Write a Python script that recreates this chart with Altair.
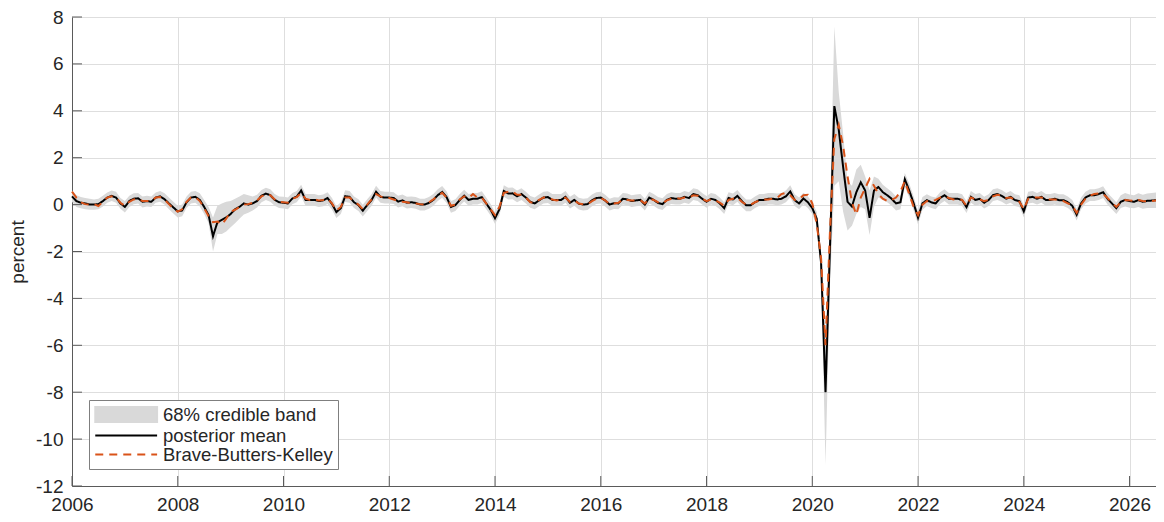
import altair as alt
import pandas as pd

start_year = 2006

mean = [
    0.35, 0.15, 0.08, 0.05, 0.00, 0.00, 0.02, 0.15, 0.30, 0.37, 0.30, 0.05,
    -0.10, 0.15, 0.25, 0.27, 0.12, 0.15, 0.12, 0.30, 0.35, 0.23, 0.05, -0.12,
    -0.29, -0.25, 0.10, 0.30, 0.33, 0.20, -0.10, -0.45, -1.35, -0.75, -0.65, -0.55,
    -0.40, -0.20, -0.10, 0.05, 0.00, 0.05, 0.15, 0.38, 0.47, 0.40, 0.20, 0.10,
    0.08, 0.05, 0.26, 0.34, 0.60, 0.20, 0.20, 0.20, 0.15, 0.18, 0.28, 0.03,
    -0.32, -0.15, 0.36, 0.33, 0.10, -0.02, -0.26, -0.02, 0.20, 0.55, 0.33, 0.30,
    0.30, 0.28, 0.13, 0.18, 0.08, 0.10, 0.07, 0.00, 0.00, 0.07, 0.20, 0.40,
    0.54, 0.32, -0.10, -0.02, 0.20, 0.38, 0.20, 0.25, 0.25, 0.32, 0.05, -0.22,
    -0.58, -0.20, 0.58, 0.47, 0.48, 0.35, 0.45, 0.30, 0.12, 0.05, 0.18, 0.30,
    0.32, 0.20, 0.20, 0.20, 0.33, 0.08, 0.20, 0.04, 0.00, 0.02, 0.18, 0.28,
    0.30, 0.17, 0.00, 0.06, 0.05, 0.25, 0.22, 0.15, 0.18, 0.20, 0.00, 0.30,
    0.20, 0.07, 0.02, 0.20, 0.28, 0.25, 0.25, 0.33, 0.28, 0.45, 0.40, 0.25,
    0.12, 0.25, 0.20, 0.05, -0.15, 0.28, 0.22, 0.37, 0.15, -0.03, -0.03, 0.10,
    0.20, 0.20, 0.25, 0.25, 0.22, 0.25, 0.35, 0.56, 0.19, 0.05, 0.26, 0.10,
    -0.15, -0.60, -2.50, -8.00, -1.90, 4.20, 3.20, 1.60, 0.12, -0.08, 0.53, 0.95,
    0.60, -0.56, 0.60, 0.75, 0.53, 0.40, 0.25, 0.05, 0.10, 1.08, 0.60, 0.05,
    -0.56, 0.05, 0.19, 0.10, 0.05, 0.28, 0.40, 0.25, 0.25, 0.25, 0.19, -0.11,
    0.33, 0.20, 0.25, 0.08, 0.19, 0.40, 0.45, 0.37, 0.25, 0.33, 0.19, 0.15,
    -0.29, 0.30, 0.33, 0.25, 0.33, 0.20, 0.20, 0.25, 0.19, 0.19, 0.10, -0.05,
    -0.43, 0.05, 0.30, 0.40, 0.40, 0.45, 0.53, 0.25, 0.05, -0.15, 0.12, 0.20,
    0.15, 0.12, 0.19, 0.12, 0.16, 0.17, 0.19,
]

bbk = [
    0.55, 0.30, 0.10, 0.02, 0.00, 0.02, -0.06, 0.12, 0.30, 0.35, 0.30, 0.08,
    -0.05, 0.12, 0.22, 0.25, 0.15, 0.15, 0.15, 0.30, 0.32, 0.22, 0.02, -0.18,
    -0.30, -0.20, 0.12, 0.30, 0.32, 0.15, -0.15, -0.50, -0.75, -0.72, -0.85, -0.60,
    -0.30, -0.22, -0.10, 0.00, 0.02, 0.08, 0.18, 0.35, 0.45, 0.40, 0.22, 0.12,
    0.10, 0.08, 0.25, 0.32, 0.50, 0.25, 0.20, 0.22, 0.18, 0.20, 0.25, 0.05,
    -0.25, -0.10, 0.30, 0.30, 0.12, 0.00, -0.20, 0.00, 0.22, 0.45, 0.35, 0.28,
    0.28, 0.22, 0.15, 0.12, 0.10, 0.05, 0.05, 0.02, 0.00, 0.10, 0.22, 0.38,
    0.50, 0.30, -0.05, 0.00, 0.22, 0.35, 0.28, 0.45, 0.30, 0.30, 0.05, -0.20,
    -0.45, -0.10, 0.50, 0.55, 0.55, 0.42, 0.42, 0.30, 0.10, 0.08, 0.20, 0.30,
    0.30, 0.22, 0.18, 0.22, 0.30, 0.12, 0.18, 0.05, 0.02, 0.02, 0.15, 0.25,
    0.28, 0.18, 0.03, 0.05, 0.08, 0.22, 0.20, 0.18, 0.18, 0.18, 0.05, 0.25,
    0.20, 0.10, 0.05, 0.18, 0.25, 0.28, 0.25, 0.30, 0.30, 0.40, 0.38, 0.25,
    0.15, 0.22, 0.18, 0.08, -0.05, 0.20, 0.25, 0.30, 0.12, 0.00, 0.00, 0.10,
    0.18, 0.22, 0.22, 0.25, 0.28, 0.45, 0.50, 0.40, 0.20, 0.22, 0.40, 0.42,
    0.05, -0.80, -2.30, -6.00, -1.20, 2.80, 3.40, 2.50, 1.20, 0.10, -0.43, 0.30,
    0.70, 1.10, 0.80, 0.45, 0.25, 0.15, 0.20, 0.30, 0.55, 1.00, 0.45, -0.10,
    -0.45, 0.00, 0.15, 0.12, 0.20, 0.30, 0.35, 0.28, 0.22, 0.25, 0.20, -0.05,
    0.30, 0.22, 0.22, 0.15, 0.20, 0.35, 0.42, 0.38, 0.28, 0.30, 0.20, 0.12,
    -0.20, 0.25, 0.30, 0.30, 0.30, 0.25, 0.22, 0.22, 0.20, 0.15, 0.05, -0.05,
    -0.35, 0.00, 0.25, 0.38, 0.45, 0.48, 0.45, 0.28, 0.08, -0.10, 0.10, 0.20,
    0.18, 0.15, 0.20, 0.15, 0.14, 0.15, 0.18,
]

band_lo = [
    0.12, -0.10, -0.16, -0.20, -0.22, -0.22, -0.20, -0.08, 0.08, 0.15, 0.08, -0.18,
    -0.34, -0.10, 0.02, 0.05, -0.12, -0.08, -0.10, 0.08, 0.12, 0.00, -0.20, -0.38,
    -0.55, -0.50, -0.15, 0.05, 0.08, -0.08, -0.40, -0.80, -2.00, -1.25, -1.25, -1.15,
    -0.97, -0.80, -0.60, -0.42, -0.35, -0.25, -0.12, 0.10, 0.20, 0.12, -0.05, -0.15,
    -0.17, -0.20, 0.02, 0.10, 0.35, -0.05, -0.05, -0.05, -0.10, -0.07, 0.03, -0.22,
    -0.57, -0.40, 0.11, 0.08, -0.15, -0.27, -0.51, -0.27, -0.05, 0.30, 0.08, 0.05,
    0.05, 0.03, -0.12, -0.07, -0.17, -0.15, -0.18, -0.25, -0.25, -0.18, -0.05, 0.15,
    0.29, 0.07, -0.35, -0.27, -0.05, 0.13, -0.05, 0.00, 0.00, 0.07, -0.20, -0.47,
    -0.83, -0.45, 0.33, 0.22, 0.23, 0.10, 0.20, 0.05, -0.13, -0.20, -0.07, 0.05,
    0.07, -0.05, -0.05, -0.05, 0.08, -0.17, -0.05, -0.21, -0.25, -0.23, -0.07, 0.03,
    0.05, -0.08, -0.25, -0.19, -0.20, 0.00, -0.03, -0.10, -0.07, -0.05, -0.25, 0.05,
    -0.05, -0.18, -0.23, -0.05, 0.03, 0.00, 0.00, 0.08, 0.03, 0.20, 0.15, 0.00,
    -0.13, 0.00, -0.05, -0.20, -0.40, 0.03, -0.03, 0.12, -0.10, -0.28, -0.28, -0.15,
    -0.05, -0.05, 0.00, 0.00, -0.03, 0.00, 0.10, 0.30, -0.06, -0.20, 0.01, -0.15,
    -0.40, -0.90, -2.90, -11.10, -3.50, 0.80, 1.00, -0.30, -1.10, -0.90, -0.40, -0.10,
    -0.20, -1.30, -0.10, 0.30, 0.20, 0.10, -0.05, -0.25, -0.20, 0.75, 0.30, -0.25,
    -0.85, -0.22, -0.06, -0.15, -0.20, 0.03, 0.15, 0.00, 0.00, 0.00, -0.06, -0.36,
    0.08, -0.05, 0.00, -0.17, -0.06, 0.15, 0.20, 0.12, 0.00, 0.08, -0.06, -0.10,
    -0.54, 0.05, 0.08, 0.00, 0.08, -0.05, -0.05, 0.00, -0.06, -0.06, -0.15, -0.30,
    -0.68, -0.20, 0.05, 0.15, 0.15, 0.20, 0.28, 0.00, -0.20, -0.40, -0.15, -0.08,
    -0.13, -0.16, -0.10, -0.18, -0.15, -0.15, -0.14,
]

band_hi = [
    0.60, 0.40, 0.32, 0.28, 0.25, 0.22, 0.25, 0.38, 0.52, 0.60, 0.55, 0.28,
    0.15, 0.38, 0.48, 0.50, 0.35, 0.38, 0.35, 0.52, 0.58, 0.48, 0.30, 0.12,
    -0.05, 0.00, 0.35, 0.55, 0.58, 0.48, 0.20, -0.10, -0.55, -0.05, 0.05, 0.12,
    0.15, 0.25, 0.35, 0.45, 0.40, 0.35, 0.42, 0.62, 0.72, 0.65, 0.45, 0.35,
    0.33, 0.30, 0.50, 0.58, 0.85, 0.45, 0.45, 0.45, 0.40, 0.43, 0.53, 0.28,
    -0.07, 0.10, 0.61, 0.58, 0.35, 0.23, -0.01, 0.23, 0.45, 0.80, 0.58, 0.55,
    0.55, 0.53, 0.38, 0.43, 0.33, 0.35, 0.32, 0.25, 0.25, 0.32, 0.45, 0.65,
    0.79, 0.57, 0.15, 0.23, 0.45, 0.63, 0.45, 0.50, 0.50, 0.57, 0.30, 0.03,
    -0.33, 0.05, 0.83, 0.72, 0.73, 0.60, 0.70, 0.55, 0.37, 0.30, 0.43, 0.55,
    0.57, 0.45, 0.45, 0.45, 0.58, 0.33, 0.45, 0.29, 0.25, 0.27, 0.43, 0.53,
    0.55, 0.42, 0.25, 0.31, 0.30, 0.50, 0.47, 0.40, 0.43, 0.45, 0.25, 0.55,
    0.45, 0.32, 0.27, 0.45, 0.53, 0.50, 0.50, 0.58, 0.53, 0.70, 0.65, 0.50,
    0.37, 0.50, 0.45, 0.30, 0.10, 0.53, 0.47, 0.62, 0.40, 0.22, 0.22, 0.35,
    0.45, 0.45, 0.50, 0.50, 0.47, 0.50, 0.60, 0.82, 0.44, 0.30, 0.51, 0.35,
    0.10, -0.30, -2.10, -5.50, -0.50, 7.60, 4.80, 3.00, 1.00, 0.80, 1.50, 1.70,
    1.20, 0.60, 1.20, 1.10, 0.85, 0.70, 0.55, 0.35, 0.40, 1.35, 0.90, 0.35,
    -0.28, 0.32, 0.44, 0.35, 0.30, 0.53, 0.65, 0.50, 0.50, 0.50, 0.44, 0.14,
    0.58, 0.45, 0.50, 0.33, 0.44, 0.65, 0.70, 0.62, 0.50, 0.58, 0.44, 0.40,
    -0.04, 0.55, 0.58, 0.50, 0.58, 0.45, 0.45, 0.50, 0.44, 0.44, 0.35, 0.20,
    -0.18, 0.30, 0.55, 0.65, 0.65, 0.70, 0.78, 0.50, 0.30, 0.10, 0.40, 0.50,
    0.43, 0.40, 0.48, 0.42, 0.47, 0.50, 0.52,
]

x_ticks = [2006, 2008, 2010, 2012, 2014, 2016, 2018, 2020, 2022, 2024, 2026]
y_ticks = [-12, -10, -8, -6, -4, -2, 0, 2, 4, 6, 8]
series_names = ["68% credible band", "posterior mean", "Brave-Butters-Kelley"]
series_colors = ["#d9d9d9", "#000000", "#d95319"]

n = len(mean)
df = pd.DataFrame({
    "t": [start_year + i / 12 for i in range(n)],
    "mean": mean,
    "bbk": bbk,
    "lo": band_lo,
    "hi": band_hi,
})

W, H = 1084, 469
FONT = "Liberation Sans"
TXT = "#262626"
AX = "#5a5a5a"
GRID = "#dedede"

xs = alt.Scale(domain=[2006, 2026.5], nice=False, zero=False)
ys = alt.Scale(domain=[-12, 8], nice=False, zero=False)

x_axis = alt.Axis(values=x_ticks, format="d", grid=True, ticks=False, labelPadding=9,
                  domainColor=AX, domainWidth=1, gridColor=GRID, gridWidth=1,
                  labelFontSize=19, labelFont=FONT, labelColor=TXT, title=None,
                  labelFlush=False, labelOverlap=False)
y_axis = alt.Axis(values=y_ticks, labelExpr="'' + datum.value", grid=True, ticks=False,
                  labelPadding=9, domainColor=AX, domainWidth=1, gridColor=GRID, gridWidth=1,
                  labelFontSize=19, labelFont=FONT, labelColor=TXT, labelFlush=False,
                  labelOverlap=False, title="percent", titleFontSize=19, titleFont=FONT,
                  titleFontWeight="normal", titleColor=TXT, titlePadding=8)

SYM = 272
RECT_PATH = "M-1,-0.9H6.5V0.9H-1Z"
LINE_PATH = "M-1,0H6.5"
legend = alt.Legend(
    title=None, orient="bottom-left", offset=17, symbolSize=SYM, labelOffset=50,
    labelFontSize=18.5, labelFont=FONT, labelColor=TXT, labelLimit=400,
    strokeColor="#7f7f7f", fillColor="white", padding=5, rowPadding=0,
    symbolStrokeWidth=2, symbolOpacity=1,
)
color_scale = alt.Scale(domain=series_names, range=series_colors)
shape_scale = alt.Scale(domain=series_names, range=[RECT_PATH, LINE_PATH, LINE_PATH])
dash_scale = alt.Scale(domain=series_names, range=[[1, 0], [1, 0], [8, 6]])

color_enc = alt.Color("series:N", scale=color_scale, legend=legend)
dash_enc = alt.StrokeDash("series:N", scale=dash_scale, legend=legend)

base = alt.Chart(df)
band = base.transform_calculate(series="'68% credible band'").mark_area(opacity=1).encode(
    x=alt.X("t:Q", scale=xs, axis=x_axis),
    y=alt.Y("lo:Q", scale=ys, axis=y_axis),
    y2="hi:Q",
    color=color_enc,
)
line_mean = base.transform_calculate(series="'posterior mean'").mark_line(strokeWidth=2).encode(
    x=alt.X("t:Q", scale=xs, axis=x_axis),
    y=alt.Y("mean:Q", scale=ys, axis=y_axis),
    color=color_enc,
    strokeDash=dash_enc,
)
line_bbk = base.transform_calculate(series="'Brave-Butters-Kelley'").mark_line(
    strokeWidth=2).encode(
    x=alt.X("t:Q", scale=xs, axis=x_axis),
    y=alt.Y("bbk:Q", scale=ys, axis=y_axis),
    color=color_enc,
    strokeDash=dash_enc,
)
# carries the legend symbol shapes only; it draws no points
legend_keys = base.transform_filter("false").transform_calculate(
    series="'posterior mean'").mark_point().encode(
    x=alt.X("t:Q", scale=xs, axis=x_axis),
    y=alt.Y("mean:Q", scale=ys, axis=y_axis),
    color=color_enc,
    shape=alt.Shape("series:N", scale=shape_scale, legend=legend),
)

yt = alt.Chart(pd.DataFrame({"v": y_ticks})).mark_rule(color=AX, strokeWidth=1).encode(
    y=alt.Y("v:Q", scale=ys, axis=y_axis),
    x=alt.value(0), x2=alt.value(10),
)
xt = alt.Chart(pd.DataFrame({"v": x_ticks})).mark_rule(color=AX, strokeWidth=1).encode(
    x=alt.X("v:Q", scale=xs, axis=x_axis),
    y=alt.value(H), y2=alt.value(H - 10),
)

chart = alt.layer(band, line_mean, line_bbk, legend_keys, yt, xt).properties(
    width=W, height=H,
    autosize=alt.AutoSizeParams(type="none"),
    padding={"left": 64, "top": 9, "right": 0, "bottom": 28},
).configure_view(stroke=None)

chart.save("out.html", embed_options={"renderer": "svg", "actions": False})
